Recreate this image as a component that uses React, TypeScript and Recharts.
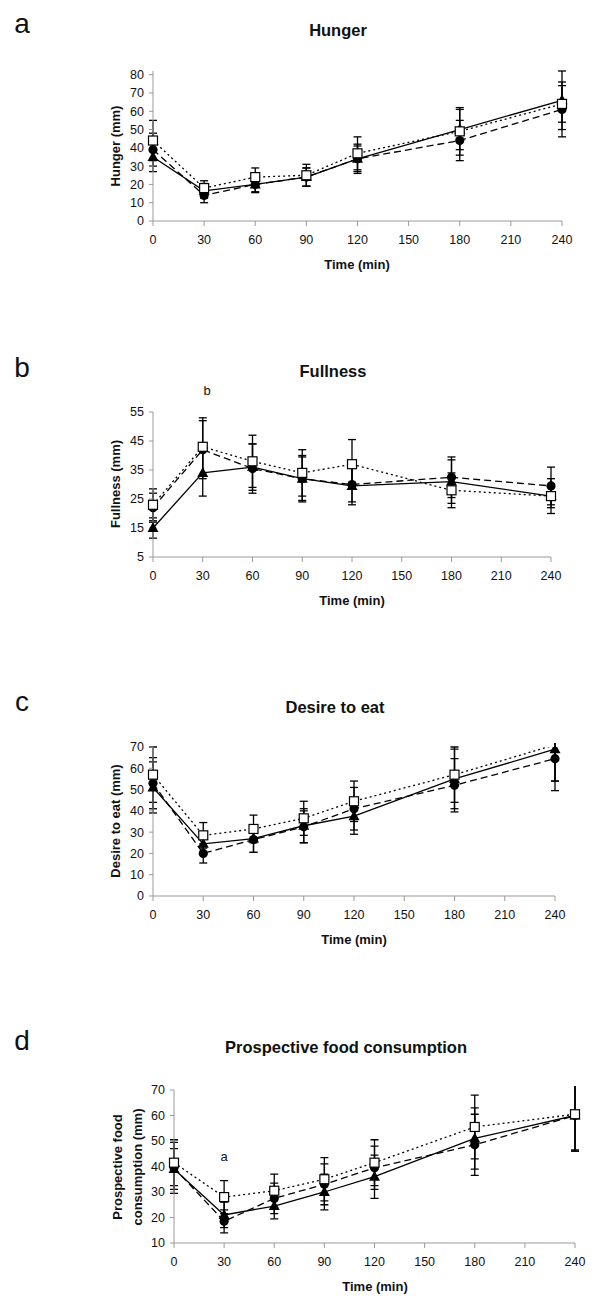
import { LineChart, Line, XAxis, YAxis, ErrorBar } from "recharts";

// time points (min) and axis ticks
const times = [0, 30, 60, 90, 120, 180, 240];
const timeTicks = [0, 30, 60, 90, 120, 150, 180, 210, 240];

// a: Hunger (mm)
const hungerTri = [35, 16.5, 20, 24, 34, 50, 66];
const hungerTriErr = [8, 4, 4, 5, 7, 11, 16];
const hungerCir = [39, 14, 20, 24, 34, 44, 61];
const hungerCirErr = [9, 4, 4.5, 5, 8, 11, 15];
const hungerSq = [44, 18, 24, 25, 37, 49, 64];
const hungerSqErr = [11, 4, 5, 6, 9, 13, 10];
const hungerTicks = [0, 10, 20, 30, 40, 50, 60, 70, 80];

// b: Fullness (mm)
const fullTri = [15, 34, 36, 32, 29.5, 31, 26];
const fullTriErr = [3.5, 8, 8, 8, 6.5, 7.5, 4];
const fullCir = [22, 42, 35.5, 32, 30, 32.5, 29.5];
const fullCirErr = [5, 10, 8.5, 7.5, 6, 7, 6.5];
const fullSq = [23, 43, 38, 34, 37, 28, 26];
const fullSqErr = [5.5, 10, 9, 8, 8.5, 6, 6];
const fullTicks = [5, 15, 25, 35, 45, 55];

// c: Desire to eat (mm)
const desireTri = [51, 24.5, 27, 33, 37.5, 55, 69];
const desireTriErr = [12, 5, 6.5, 8, 8.5, 14, 15];
const desireCir = [53, 20, 26.5, 32.5, 41, 52, 64.5];
const desireCirErr = [12, 4.5, 6, 7.5, 10, 12.5, 15];
const desireSq = [57, 28.5, 31.5, 36.5, 44.5, 57, 71];
const desireSqErr = [13, 6, 6.5, 8, 9.5, 13, 17];
const desireTicks = [0, 10, 20, 30, 40, 50, 60, 70];

// d: Prospective food consumption (mm)
const pfcTri = [39, 21, 24.5, 30, 36, 51, 60];
const pfcTriErr = [8, 5, 5, 7, 8.5, 12, 14];
const pfcCir = [39.5, 18.5, 27.5, 33, 39.5, 48.5, 60];
const pfcCirErr = [10, 4.5, 6, 8, 8.5, 12, 14];
const pfcSq = [41.5, 28, 30.5, 35, 41.5, 55.5, 60.5];
const pfcSqErr = [9, 6.5, 6.5, 8.5, 9, 12.5, 14];
const pfcTicks = [10, 20, 30, 40, 50, 60, 70];

const FONT = "'Liberation Sans', Arial, sans-serif";

function rows(tri: number[], triErr: number[], cir: number[], cirErr: number[], sq: number[], sqErr: number[]) {
  return times.map((t, i) => ({
    t,
    tri: tri[i],
    triErr: triErr[i],
    cir: cir[i],
    cirErr: cirErr[i],
    sq: sq[i],
    sqErr: sqErr[i],
  }));
}

const makeDot = (kind: "tri" | "cir" | "sq", yMax: number) => (p: any) => {
  const { cx, cy, index, payload } = p;
  const key = `${kind}-${index}`;
  if (cx == null || cy == null || (payload && payload[kind] > yMax)) return <g key={key} />;
  if (kind === "tri") {
    return <polygon key={key} points={`${cx},${cy - 6} ${cx - 5.5},${cy + 4} ${cx + 5.5},${cy + 4}`} fill="#000" />;
  }
  if (kind === "cir") {
    return <circle key={key} cx={cx} cy={cy} r={4.6} fill="#000" />;
  }
  return <rect key={key} x={cx - 4.5} y={cy - 4.5} width={9} height={9} fill="#fff" stroke="#000" strokeWidth={1.2} />;
};

interface PanelProps {
  top: number;
  height: number;
  plotLeft: number;
  plotRight: number;
  plotTop: number;
  plotBottom: number;
  data: any[];
  domain: [number, number];
  ticks: number[];
  clip?: boolean;
}

function Panel({ top, height, plotLeft, plotRight, plotTop, plotBottom, data, domain, ticks, clip }: PanelProps) {
  const yw = 40;
  const xh = 30;
  const axisStyle = { fill: "#111", fontSize: 12.5, fontFamily: FONT };
  const py = plotTop - top;
  // like Excel: error bars running past the top of the plot are cut just above it
  const cy = py - 4;
  const clipPath = clip
    ? `polygon(0px 0px, ${plotLeft + 1}px 0px, ${plotLeft + 1}px ${cy}px, 600px ${cy}px, 600px ${height}px, 0px ${height}px)`
    : undefined;
  return (
    <div style={{ position: "absolute", left: 0, top, width: 600, height, clipPath }}>
      <LineChart
        width={600}
        height={height}
        data={data}
        margin={{
          top: py,
          left: plotLeft - yw,
          right: 600 - plotRight,
          bottom: height - (plotBottom - top) - xh,
        }}
      >
        <XAxis
          dataKey="t"
          type="number"
          domain={[0, 240]}
          ticks={timeTicks}
          height={xh}
          tick={axisStyle}
          tickSize={5}
          tickMargin={9}
          axisLine={{ stroke: "#9a9a9a" }}
          tickLine={{ stroke: "#9a9a9a" }}
          interval={0}
        />
        <YAxis
          type="number"
          domain={domain}
          ticks={ticks}
          width={yw}
          allowDataOverflow={!!clip}
          tick={axisStyle}
          tickSize={4}
          tickMargin={5}
          axisLine={{ stroke: "#9a9a9a" }}
          tickLine={{ stroke: "#9a9a9a" }}
          interval={0}
        />
        <Line
          dataKey="tri"
          stroke="#000"
          strokeWidth={1.3}
          dot={makeDot("tri", domain[1])}
          activeDot={false}
          isAnimationActive={false}
        >
          <ErrorBar dataKey="triErr" direction="y" width={4} stroke="#000" strokeWidth={1.3} />
        </Line>
        <Line
          dataKey="cir"
          stroke="#000"
          strokeWidth={1.3}
          strokeDasharray="7 4"
          dot={makeDot("cir", domain[1])}
          activeDot={false}
          isAnimationActive={false}
        >
          <ErrorBar dataKey="cirErr" direction="y" width={4} stroke="#000" strokeWidth={1.3} />
        </Line>
        <Line
          dataKey="sq"
          stroke="#000"
          strokeWidth={1.3}
          strokeDasharray="2 3"
          dot={makeDot("sq", domain[1])}
          activeDot={false}
          isAnimationActive={false}
        >
          <ErrorBar dataKey="sqErr" direction="y" width={4} stroke="#000" strokeWidth={1.3} />
        </Line>
      </LineChart>
    </div>
  );
}

export default function App() {
  const titleStyle = { fontFamily: FONT, fontWeight: 700, fontSize: 16.5, fill: "#111" } as const;
  const labelStyle = { fontFamily: FONT, fontWeight: 700, fontSize: 13, fill: "#111" } as const;
  const letterStyle = { fontFamily: FONT, fontSize: 28, fill: "#111" } as const;
  const noteStyle = { fontFamily: FONT, fontSize: 13, fill: "#111" } as const;
  return (
    <div style={{ position: "absolute", left: 0, top: 0, width: 600, height: 1306, background: "#fff" }}>
      <Panel top={0} height={300} plotLeft={153} plotRight={562} plotTop={71} plotBottom={221}
        data={rows(hungerTri, hungerTriErr, hungerCir, hungerCirErr, hungerSq, hungerSqErr)}
        domain={[0, 80]} ticks={hungerTicks} />
      <Panel top={320} height={300} plotLeft={153} plotRight={551} plotTop={412} plotBottom={557}
        data={rows(fullTri, fullTriErr, fullCir, fullCirErr, fullSq, fullSqErr)}
        domain={[5, 55]} ticks={fullTicks} />
      <Panel top={640} height={310} plotLeft={153} plotRight={555} plotTop={747} plotBottom={896}
        data={rows(desireTri, desireTriErr, desireCir, desireCirErr, desireSq, desireSqErr)}
        domain={[0, 70]} ticks={desireTicks} clip />
      <Panel top={980} height={326} plotLeft={174} plotRight={575} plotTop={1090} plotBottom={1243}
        data={rows(pfcTri, pfcTriErr, pfcCir, pfcCirErr, pfcSq, pfcSqErr)}
        domain={[10, 70]} ticks={pfcTicks} clip />

      <svg width={600} height={1306} style={{ position: "absolute", left: 0, top: 0, pointerEvents: "none" }}>
        {/* panel letters */}
        <text x={22} y={33} textAnchor="middle" style={letterStyle}>a</text>
        <text x={22} y={377} textAnchor="middle" style={letterStyle}>b</text>
        <text x={22} y={711} textAnchor="middle" style={letterStyle}>c</text>
        <text x={22} y={1050} textAnchor="middle" style={letterStyle}>d</text>

        {/* titles */}
        <text x={338} y={36} textAnchor="middle" style={titleStyle}>Hunger</text>
        <text x={333} y={377} textAnchor="middle" style={titleStyle}>Fullness</text>
        <text x={335} y={713} textAnchor="middle" style={titleStyle}>Desire to eat</text>
        <text x={346} y={1053} textAnchor="middle" style={titleStyle}>Prospective food consumption</text>

        {/* x labels */}
        <text x={357} y={269} textAnchor="middle" style={labelStyle}>Time (min)</text>
        <text x={352} y={605} textAnchor="middle" style={labelStyle}>Time (min)</text>
        <text x={354} y={944} textAnchor="middle" style={labelStyle}>Time (min)</text>
        <text x={375} y={1291} textAnchor="middle" style={labelStyle}>Time (min)</text>

        {/* y labels */}
        <text x={115} y={146} dy="0.35em" textAnchor="middle" transform="rotate(-90 115 146)" style={labelStyle}>Hunger (mm)</text>
        <text x={115} y={484} dy="0.35em" textAnchor="middle" transform="rotate(-90 115 484)" style={labelStyle}>Fullness (mm)</text>
        <text x={115} y={821} dy="0.35em" textAnchor="middle" transform="rotate(-90 115 821)" style={labelStyle}>Desire to eat (mm)</text>
        <text x={117} y={1167} dy="0.35em" textAnchor="middle" transform="rotate(-90 117 1167)" style={labelStyle}>Prospective food</text>
        <text x={137} y={1167} dy="0.35em" textAnchor="middle" transform="rotate(-90 137 1167)" style={labelStyle}>consumption (mm)</text>

        {/* significance marks */}
        <text x={207} y={395} textAnchor="middle" style={noteStyle}>b</text>
        <text x={224} y={1161} textAnchor="middle" style={noteStyle}>a</text>
      </svg>
    </div>
  );
}
